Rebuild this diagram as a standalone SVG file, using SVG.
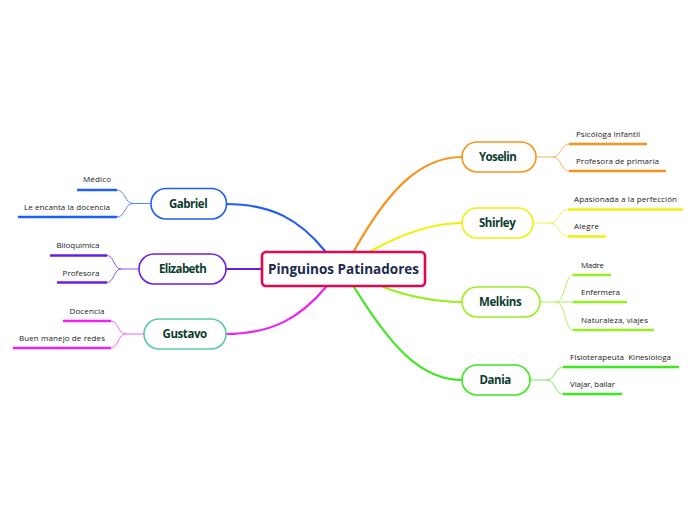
<svg xmlns="http://www.w3.org/2000/svg" width="696" height="520" viewBox="0 0 696 520">
<style>
.node{fill:#fff;stroke-width:1.6}
.lbl{font-family:"Open Sans","Noto Sans",sans-serif;font-weight:bold;font-size:11.5px;fill:#0d3b2e;text-anchor:middle;letter-spacing:0.3px}
.leaf{font-family:"Open Sans","Noto Sans",sans-serif;font-size:8px;fill:#222}
.main{fill:none;stroke-width:2.2;stroke-linecap:round}
.sub{fill:none;stroke-width:1}
.ul{stroke-width:2.4;fill:none}
</style>
<rect width="696" height="520" fill="#fff"/>
<g id="connectors">
  <path class="main" stroke="#1f5ef2" d="M226,204 C272,204 300,220 325,251"/>
  <path class="main" stroke="#6a1ee4" stroke-width="1.6" d="M226,269 L262,269"/>
  <path class="main" stroke="#ee22ee" d="M225,334 C272,334 300,318 326,287"/>
  <path class="main" stroke="#f7941d" d="M354,251 C388,190 420,157 462,157"/>
  <path class="main" stroke="#f0f010" d="M371,251 C400,235 430,223 462,223"/>
  <path class="main" stroke="#99ee22" d="M383,287 C410,297 435,302 462,302"/>
  <path class="main" stroke="#3ee81e" d="M354,287 C390,345 420,380 462,380"/>
  <g stroke="#5588f5">
    <path class="sub" d="M151,203.5 L133,203.5 C125,203.5 125,190 117,190 M133,203.5 C125,203.5 125,217 117,217"/>
  </g>
  <g stroke="#8855ee">
    <path class="sub" d="M139,269 L121,269 C114,269 114,255.5 107,255.5 M121,269 C114,269 114,282.5 107,282.5"/>
  </g>
  <g stroke="#f066f0">
    <path class="sub" d="M144,334 L126,334 C118,334 118,321 111,321 M126,334 C118,334 118,348 111,348"/>
  </g>
  <g stroke="#f9b060">
    <path class="sub" d="M536,157 L553,157 C561,157 561,144 569,144 M553,157 C561,157 561,171 569,171"/>
  </g>
  <g stroke="#f2f255">
    <path class="sub" d="M533,223 L550,223 C559,223 559,209.5 568,209.5 M550,223 C559,223 559,236.5 568,236.5"/>
  </g>
  <g stroke="#b0f060">
    <path class="sub" d="M540,302 L556,302 C565,302 565,275 573,275 M556,302 L573,302 M556,302 C565,302 565,330 573,330"/>
  </g>
  <g stroke="#77ee55">
    <path class="sub" d="M530,380 L547,380 C555,380 555,367 563,367 M547,380 C555,380 555,394 563,394"/>
  </g>
</g>
<g id="center">
  <rect x="262" y="252" width="163" height="34" rx="4" fill="#fff" stroke="#e0064f" stroke-width="2.6"/>
  <text x="343.5" y="274" font-family="'Open Sans','Noto Sans',sans-serif" font-weight="bold" font-size="14" fill="#1b2a4e" text-anchor="middle" textLength="151" lengthAdjust="spacingAndGlyphs">Pinguinos Patinadores</text>
</g>
<g id="gabriel">
  <rect class="node" stroke="#1f5ef2" x="151" y="188.5" width="75.5" height="30.5" rx="15"/>
  <text class="lbl" x="188.5" y="207.5" textLength="39">Gabriel</text>
  <path class="ul" stroke="#1f5ef2" d="M77,190 H117 M18,217 H117"/>
  <text class="leaf" x="111" y="182" text-anchor="end" textLength="28">Médico</text>
  <text class="leaf" x="110" y="209.5" text-anchor="end" textLength="86">Le encanta la docencia</text>
</g>
<g id="elizabeth">
  <rect class="node" stroke="#6a1ee4" x="139" y="254" width="87" height="30" rx="15"/>
  <text class="lbl" x="183" y="273" textLength="48">Elizabeth</text>
  <path class="ul" stroke="#6a1ee4" d="M50,255.5 H107 M57,282.5 H107"/>
  <text class="leaf" x="99.5" y="248" text-anchor="end" textLength="43">Biioquimica</text>
  <text class="leaf" x="99.5" y="275.5" text-anchor="end" textLength="37">Profesora</text>
</g>
<g id="gustavo">
  <rect class="node" stroke="#5cc8a6" x="144" y="319" width="82" height="30" rx="15"/>
  <text class="lbl" x="185" y="338" textLength="45">Gustavo</text>
  <path class="ul" stroke="#ee22ee" d="M63,321 H111 M13,348 H111"/>
  <text class="leaf" x="104.5" y="313.5" text-anchor="end" textLength="35">Docencia</text>
  <text class="leaf" x="105" y="341" text-anchor="end" textLength="86">Buen manejo de redes</text>
</g>
<g id="yoselin">
  <rect class="node" stroke="#f7941d" x="462" y="142" width="74" height="30" rx="15"/>
  <text class="lbl" x="498" y="161" textLength="38">Yoselin</text>
  <path class="ul" stroke="#f7941d" d="M569,144 H647 M569,171 H666"/>
  <text class="leaf" x="576" y="136.5" textLength="64">Psicóloga Infantil</text>
  <text class="leaf" x="576" y="163.5" textLength="83">Profesora de primaria</text>
</g>
<g id="shirley">
  <rect class="node" stroke="#f0f010" x="462" y="208" width="71" height="30" rx="15"/>
  <text class="lbl" x="497.5" y="227" textLength="37">Shirley</text>
  <path class="ul" stroke="#f0f010" d="M568,209.5 H683 M568,236.5 H606"/>
  <text class="leaf" x="574" y="201.5" textLength="103">Apasionada a la perfección</text>
  <text class="leaf" x="574" y="228.5" textLength="25">Alegre</text>
</g>
<g id="melkins">
  <rect class="node" stroke="#99ee22" x="462" y="287" width="78" height="30" rx="15"/>
  <text class="lbl" x="500.5" y="306" textLength="43">Melkins</text>
  <path class="ul" stroke="#99ee22" d="M573,275 H611 M573,302 H627 M573,330 H654"/>
  <text class="leaf" x="581" y="267.5" textLength="23">Madre</text>
  <text class="leaf" x="581" y="294.5" textLength="39">Enfermera</text>
  <text class="leaf" x="581" y="322.5" textLength="67">Naturaleza, viajes</text>
</g>
<g id="dania">
  <rect class="node" stroke="#3ee81e" x="462" y="365" width="68" height="30" rx="15"/>
  <text class="lbl" x="495.5" y="384" textLength="32">Dania</text>
  <path class="ul" stroke="#3ee81e" d="M563,367 H679 M563,394 H622"/>
  <text class="leaf" x="570" y="359.5" textLength="101" xml:space="preserve">FIsioterapeuta  Kinesiologa</text>
  <text class="leaf" x="570" y="386.5" textLength="45">Viajar, bailar</text>
</g>
</svg>
